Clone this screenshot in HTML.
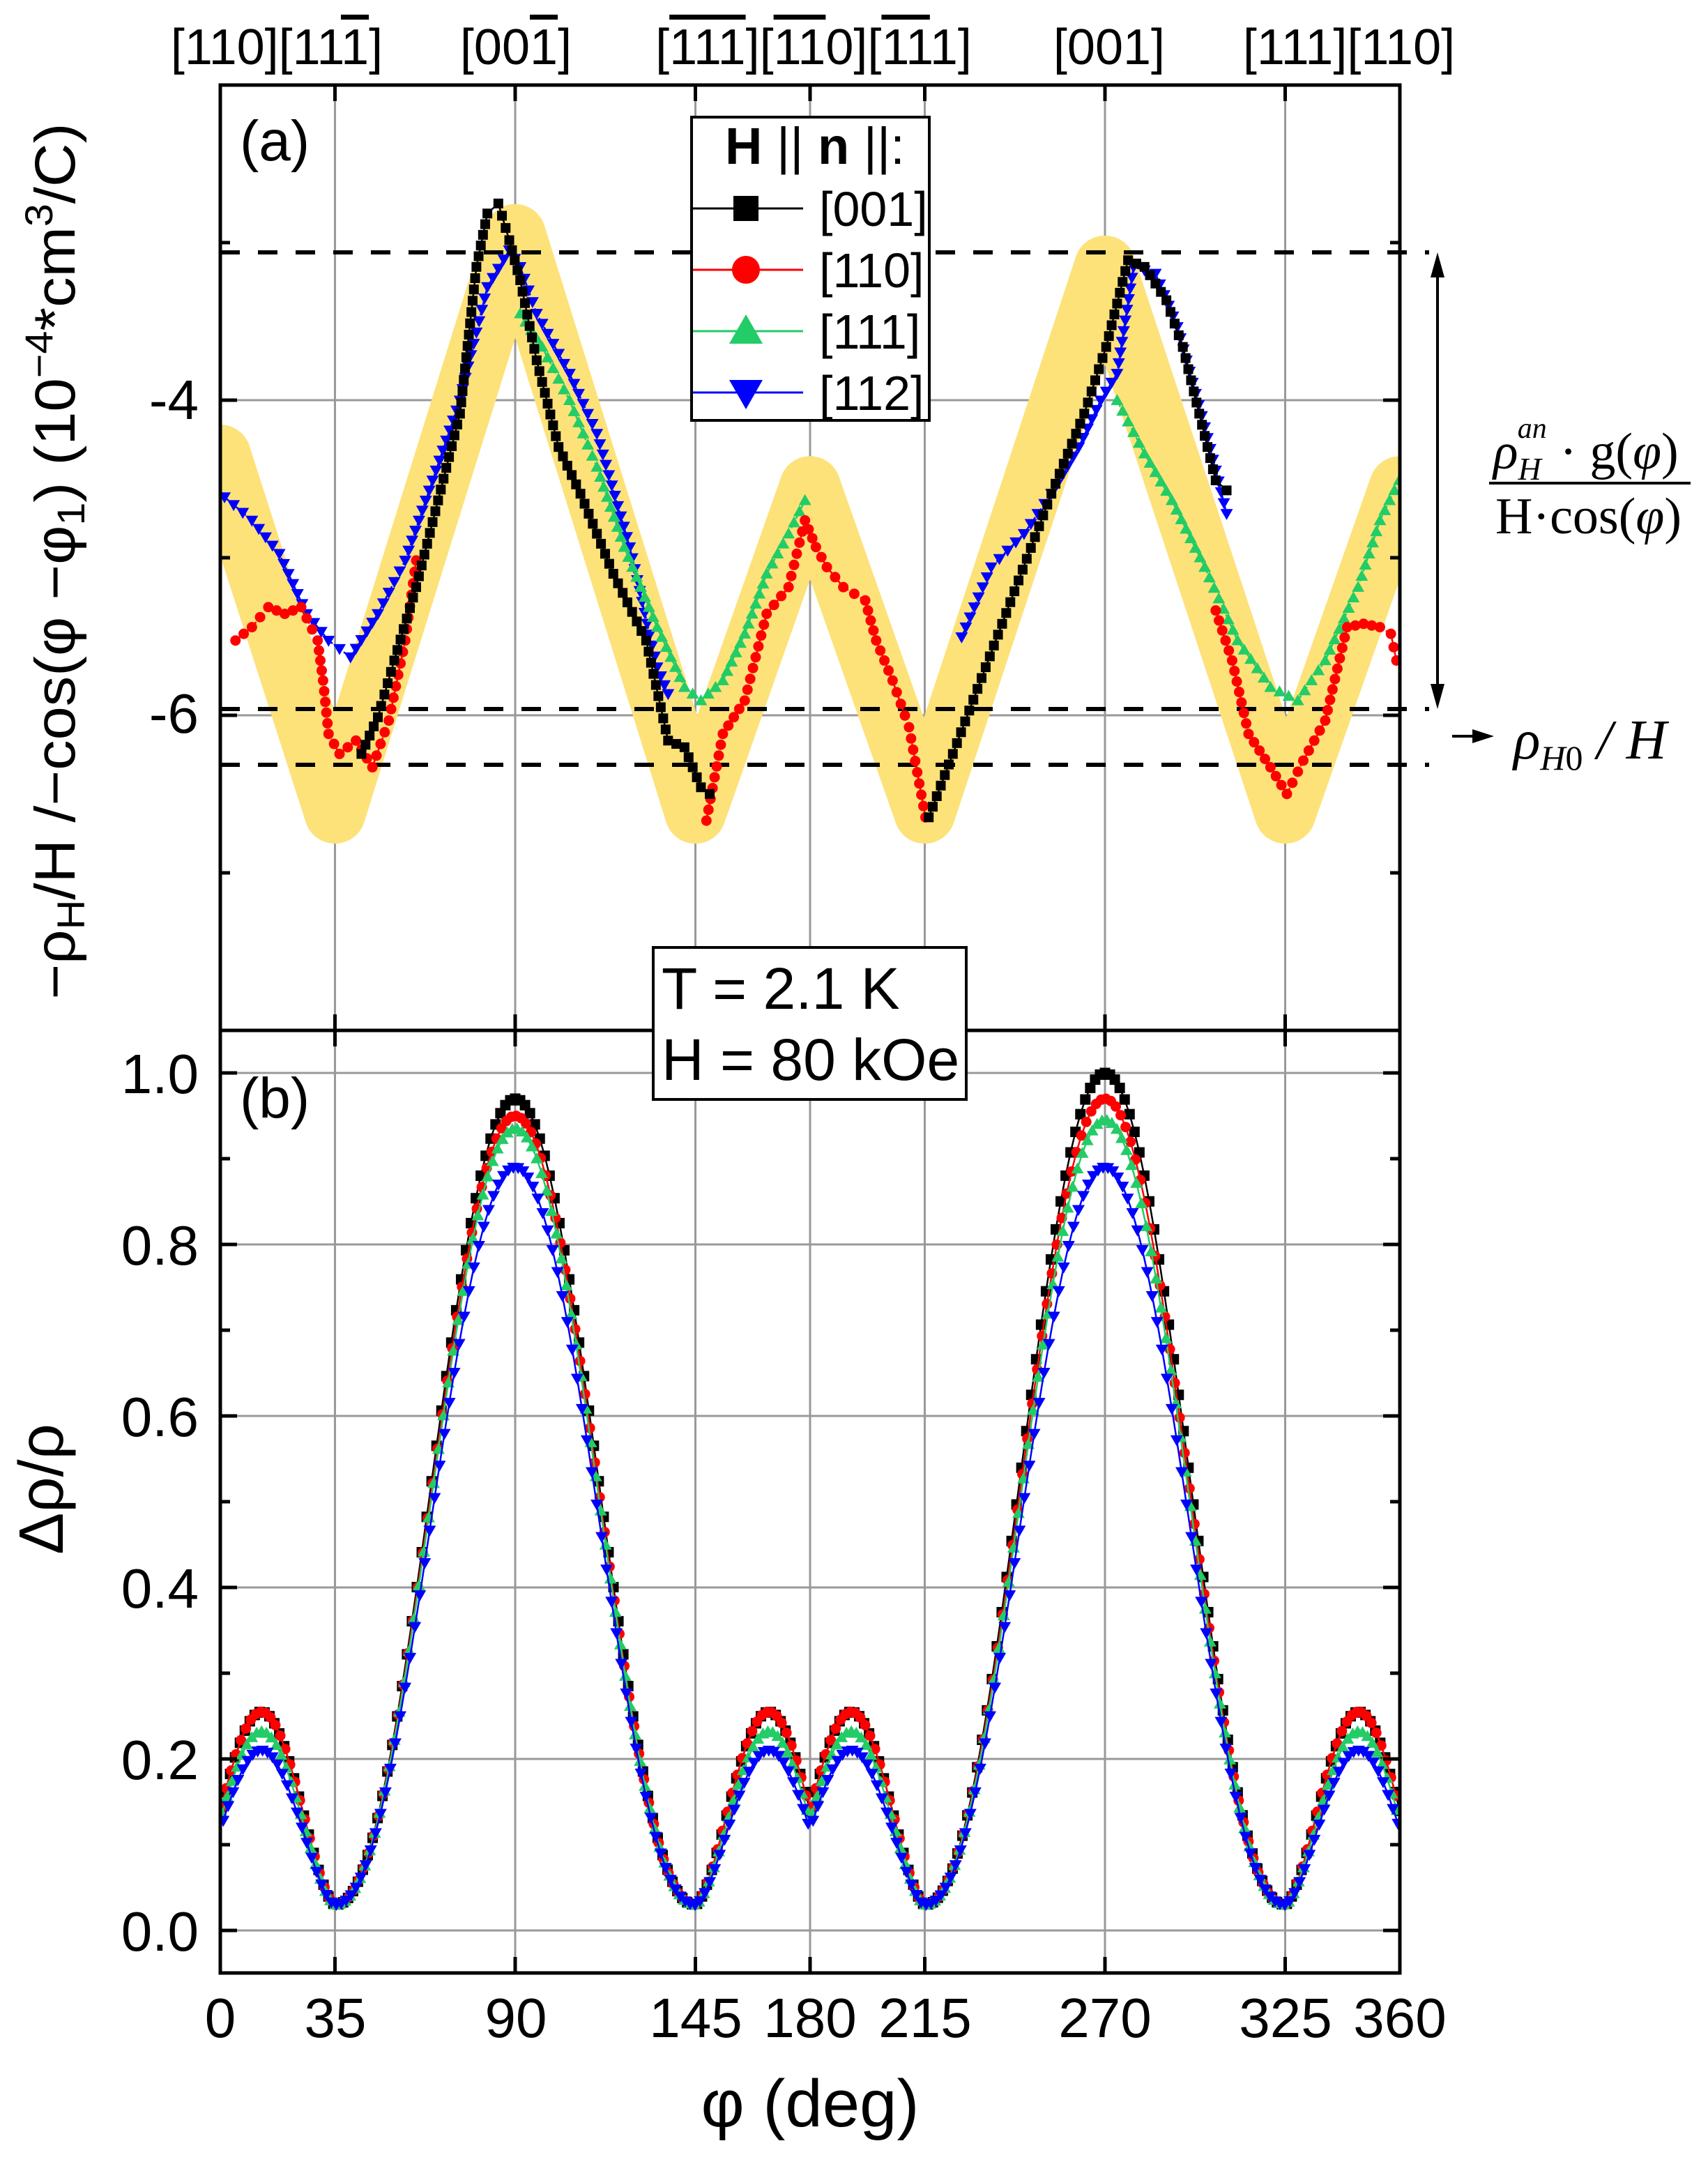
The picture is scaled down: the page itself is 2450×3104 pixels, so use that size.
<!DOCTYPE html>
<html><head><meta charset="utf-8"><style>
html,body{margin:0;padding:0;background:#fff}
svg{display:block}
text{font-family:"Liberation Sans",Arial,sans-serif}
text.serif{font-family:"Liberation Serif","DejaVu Serif",serif}
</style></head><body>
<svg id="s" xmlns="http://www.w3.org/2000/svg" width="2450" height="3104" viewBox="0 0 2450 3104">
<defs>
<clipPath id="ca"><rect x="316" y="122" width="1692" height="1356"/></clipPath>
<clipPath id="cb"><rect x="316" y="1478" width="1692" height="1352"/></clipPath>
</defs>
<g id="grid" stroke="#999" stroke-width="3"></g>
<polyline id="band" clip-path="url(#ca)" fill="none" stroke="#fde27a" stroke-width="88" stroke-linejoin="round" stroke-linecap="round"/>
<g id="dash" stroke="#000" stroke-width="6" stroke-dasharray="28,26">
<line x1="316" y1="362" x2="2050" y2="362"/>
<line x1="316" y1="1017" x2="2050" y2="1017"/>
<line x1="316" y1="1097" x2="2050" y2="1097"/>
</g>
<g id="dataA" clip-path="url(#ca)"></g>
<g id="dataB" clip-path="url(#cb)"></g>
<g id="axes" stroke="#000" stroke-width="5" fill="none">
<rect x="316" y="122" width="1692" height="2708"/>
<line x1="316" y1="1478" x2="2008" y2="1478"/>
</g>
<g id="ticks" stroke="#000" stroke-width="5"></g>
<g font-size="72" text-anchor="middle">
<text x="397" y="92">[110][11<tspan text-decoration="overline">1</tspan>]</text>
<text x="740" y="92">[00<tspan text-decoration="overline">1</tspan>]</text>
<text x="1167" y="92">[<tspan text-decoration="overline">111</tspan>][<tspan text-decoration="overline">11</tspan>0][<tspan text-decoration="overline">11</tspan>1]</text>
<text x="1591" y="92">[001]</text>
<text x="1935" y="92">[111][110]</text>
</g>
<text x="344" y="230" font-size="82">(a)</text>
<text x="344" y="1603" font-size="82">(b)</text>
<g font-size="80" text-anchor="end">
<text x="285" y="601">-4</text>
<text x="285" y="1051">-6</text>
<text x="285" y="1568">1.0</text>
<text x="285" y="1814">0.8</text>
<text x="285" y="2060">0.6</text>
<text x="285" y="2306">0.4</text>
<text x="285" y="2552">0.2</text>
<text x="285" y="2798">0.0</text>
</g>
<g font-size="80" text-anchor="middle">
<text x="316" y="2922">0</text>
<text x="481" y="2922">35</text>
<text x="740" y="2922">90</text>
<text x="998" y="2922">145</text>
<text x="1162" y="2922">180</text>
<text x="1327" y="2922">215</text>
<text x="1585" y="2922">270</text>
<text x="1844" y="2922">325</text>
<text x="2008" y="2922">360</text>
</g>
<text x="1162" y="3050" font-size="96" text-anchor="middle">φ (deg)</text>
<text transform="translate(107,805) rotate(-90)" font-size="82" text-anchor="middle" textLength="1257" lengthAdjust="spacingAndGlyphs">−ρ<tspan font-size="56" dy="14">H</tspan><tspan dy="-14">/H /−cos(φ −φ</tspan><tspan font-size="56" dy="14">1</tspan><tspan dy="-14">) (10</tspan><tspan font-size="56" dy="-32">−4</tspan><tspan dy="32">*cm</tspan><tspan font-size="56" dy="-32">3</tspan><tspan dy="32">/C)</tspan></text>
<text transform="translate(90,2136) rotate(-90)" font-size="90" text-anchor="middle">Δρ/ρ</text>
<rect x="992" y="168" width="341" height="435" fill="#fff" stroke="#000" stroke-width="4"/>
<text x="1040" y="235" font-size="74"><tspan font-weight="bold">H</tspan> || <tspan font-weight="bold">n</tspan> ||:</text>
<g id="leg"></g>
<g font-size="70">
<text x="1175" y="324">[001]</text>
<text x="1175" y="412">[110]</text>
<text x="1175" y="500">[111]</text>
<text x="1175" y="588">[112]</text>
</g>
<rect x="937" y="1359" width="449" height="218" fill="#fff" stroke="#000" stroke-width="4"/>
<text x="949" y="1447" font-size="84">T = 2.1 K</text>
<text x="949" y="1549" font-size="84">H = 80 kOe</text>
<g stroke="#000" stroke-width="4">
<line x1="2062" y1="380" x2="2062" y2="1000"/>
<line x1="2083" y1="1056" x2="2120" y2="1056"/>
<line x1="2136" y1="693" x2="2425" y2="693" stroke-width="4"/>
</g>
<polygon points="2062,362 2052,398 2072,398" fill="#000"/>
<polygon points="2062,1017 2052,981 2072,981" fill="#000"/>
<polygon points="2143,1056 2112,1046 2112,1066" fill="#000"/>
<text class="serif" x="2142" y="672" font-size="74"><tspan font-style="italic">ρ</tspan><tspan font-style="italic" font-size="46" dy="16">H</tspan><tspan font-style="italic" font-size="42" dx="-34" dy="-60">an</tspan><tspan dy="44"> · g(</tspan><tspan font-style="italic">φ</tspan>)</text>
<text class="serif" x="2145" y="765" font-size="74">H·cos(<tspan font-style="italic">φ</tspan>)</text>
<text class="serif" x="2171" y="1088" font-size="80" font-style="italic">ρ<tspan font-size="50" dy="16">H</tspan><tspan font-size="50" font-style="normal">0</tspan><tspan dy="-16"> / H</tspan></text>
</svg>
<script>
const NS="http://www.w3.org/2000/svg";
function el(p,t,a){const e=document.createElementNS(NS,t);for(const k in a)e.setAttribute(k,a[k]);p.appendChild(e);return e;}
const X=d=>316+d*1692/360;
const YA=v=>122+(-2-v)*226;
const YB=v=>2769-v*1230;
const grid=document.getElementById('grid');
[35,90,145,180,215,270,325].forEach(d=>el(grid,'line',{x1:X(d),x2:X(d),y1:122,y2:2830}));
[-4,-6].forEach(v=>el(grid,'line',{x1:316,x2:2008,y1:YA(v),y2:YA(v)}));
[0,0.2,0.4,0.6,0.8,1.0].forEach(v=>el(grid,'line',{x1:316,x2:2008,y1:YB(v),y2:YB(v)}));
const tk=document.getElementById('ticks');
[35,90,145,180,215,270,325].forEach(d=>{
 el(tk,'line',{x1:X(d),x2:X(d),y1:122,y2:145});
 el(tk,'line',{x1:X(d),x2:X(d),y1:2830,y2:2807});
 el(tk,'line',{x1:X(d),x2:X(d),y1:1478,y2:1455});
 el(tk,'line',{x1:X(d),x2:X(d),y1:1478,y2:1501});
});
[-3,-4,-5,-6,-7].forEach(v=>{const l=(v%2==0)?24:14;el(tk,'line',{x1:316,x2:316+l,y1:YA(v),y2:YA(v)});el(tk,'line',{x1:2008,x2:2008-l,y1:YA(v),y2:YA(v)});});
for(let v=0;v<=1.001;v+=0.1){const l=(Math.round(v*10)%2==0)?24:14;el(tk,'line',{x1:316,x2:316+l,y1:YB(v),y2:YB(v)});el(tk,'line',{x1:2008,x2:2008-l,y1:YB(v),y2:YB(v)});}
const bp=[[0,-4.35],[35,-6.62],[90,-2.95],[145,-6.62],[180,-4.55],[215,-6.62],[270,-3.15],[325,-6.62],[360,-4.55]];
document.getElementById('band').setAttribute('points',bp.map(p=>X(p[0])+','+YA(p[1])).join(' '));
function marker(g,type,x,y,c,s){
 if(type=='s')el(g,'rect',{x:x-s/2,y:y-s/2,width:s,height:s,fill:c});
 else if(type=='c')el(g,'circle',{cx:x,cy:y,r:s/2,fill:c});
 else if(type=='u')el(g,'polygon',{points:`${x},${y-s*0.6} ${x-s*0.6},${y+s*0.45} ${x+s*0.6},${y+s*0.45}`,fill:c});
 else el(g,'polygon',{points:`${x},${y+s*0.6} ${x-s*0.6},${y-s*0.45} ${x+s*0.6},${y-s*0.45}`,fill:c});
}
const sx=1.571, sy=0.957;
const A={
 s:{c:'#000',segs:[[[330,1130],[345,1075],[360,990],[380,880],[400,750],[420,620],[435,400],[445,320],[455,305],[465,360],[475,420],[490,540],[510,670],[530,740],[560,860],[590,960],[610,1110],[625,1120],[640,1180],[648,1190]],
 [[848,1225],[870,1130],[900,1000],[930,870],[960,740],[990,620],[1010,520],[1030,390],[1045,400],[1065,450],[1080,520],[1095,620],[1110,720],[1120,735]]]},
 c:{c:'#f00',segs:[[[215,960],[230,940],[245,910],[260,920],[275,910],[290,960],[295,1020],[300,1100],[310,1130],[325,1110],[340,1150],[355,1080],[370,960],[380,840]],
 [[645,1230],[660,1100],[680,1050],[700,920],[720,880],[735,780],[745,820],[755,850],[770,880],[790,900],[800,960],[815,1020],[830,1090],[845,1225]],
 [[1110,915],[1125,990],[1140,1100],[1160,1150],[1175,1190],[1190,1140],[1210,1080],[1230,940],[1245,935],[1260,940],[1270,950],[1275,990]]]},
 u:{c:'#22cc66',segs:[[[475,470],[495,520],[520,600],[545,700],[570,820],[600,940],[625,1030],[640,1050],[660,1020],[680,950],[700,860],[720,800],[735,750]],
 [[1020,600],[1045,680],[1070,750],[1100,850],[1130,960],[1160,1030],[1185,1050],[1210,990],[1240,880],[1260,780],[1282,705]]]},
 d:{c:'#0000ff',segs:[[[205,745],[230,780],[255,830],[280,920],[300,960],[320,985],[345,920],[370,840],[395,720],[420,600],[445,430],[465,375],[475,400],[490,470],[520,560],[545,650],[575,820],[600,1000],[610,1040]],
 [[878,955],[905,850],[935,800],[960,740],[985,670],[1005,600],[1020,560],[1035,400],[1055,410],[1075,490],[1100,640],[1120,770]]]}
};
const ga=document.getElementById('dataA');
['d','u','c','s'].forEach(k=>{const S=A[k];S.segs.forEach(seg=>{
 const pts=seg.map(p=>[p[0]*sx,p[1]*sy]);
 el(ga,'polyline',{points:pts.map(p=>p.join(',')).join(' '),fill:'none',stroke:S.c,'stroke-width':2.5,'stroke-dasharray':k=='s'?'':'10,5'});
 for(let i=0;i<pts.length-1;i++){const [x0,y0]=pts[i],[x1,y1]=pts[i+1];const L=Math.hypot(x1-x0,y1-y0);const n=Math.max(1,Math.round(L/16));
  for(let j=0;j<n;j++){const t=j/n;marker(ga,k,x0+(x1-x0)*t,y0+(y1-y0)*t,S.c,k=='s'?14:15);}}
 const l=pts[pts.length-1];marker(ga,k,l[0],l[1],S.c,k=='s'?14:15);
});});
function f(phi,pk1,pk2,bump){
 phi=((phi%360)+360)%360;
 const big=(a,b,pk)=>{const t=(phi-a)/(b-a);return 0.03+(pk-0.03)*Math.pow(Math.sin(Math.PI*t),2.2);};
 const small=(a)=>{let t=(phi-a)/35;return 0.03+(bump-0.03)*Math.pow(Math.sin(Math.PI*0.78*t),1.6);};
 if(phi>=35&&phi<=145)return big(35,145,pk1);
 if(phi>=215&&phi<=325)return big(215,325,pk2);
 if(phi>145&&phi<=180)return small(145);
 if(phi>180&&phi<215)return 0.03+(bump-0.03)*Math.pow(Math.sin(Math.PI*0.78*(215-phi)/35),1.6);
 if(phi>325)return small(325);
 return 0.03+(bump-0.03)*Math.pow(Math.sin(Math.PI*0.78*(35-phi)/35),1.6);
}
const B=[['s','#000',0.97,1.0,0.255,0],['c','#f00',0.95,0.97,0.255,0.3],['u','#22cc66',0.935,0.945,0.232,0.6],['d','#0000ff',0.89,0.89,0.21,0.9]];
const gb=document.getElementById('dataB');
B.forEach(([k,c,p1,p2,bu,off])=>{
 const pts=[];for(let d=off;d<=360;d+=1.5)pts.push([X(d),YB(f(d,p1,p2,bu))]);
 el(gb,'polyline',{points:pts.map(p=>p.join(',')).join(' '),fill:'none',stroke:c,'stroke-width':2.5});
 pts.forEach(p=>marker(gb,k,p[0],p[1],c,15));
});
const lg=document.getElementById('leg');
[['s','#000',299],['c','#f00',387],['u','#22cc66',475],['d','#0000ff',563]].forEach(([k,c,y])=>{
 el(lg,'line',{x1:994,x2:1152,y1:y,y2:y,stroke:c,'stroke-width':3});
 marker(lg,k,1070,y,c,k=='s'?36:40);
});
</script>
</body></html>
